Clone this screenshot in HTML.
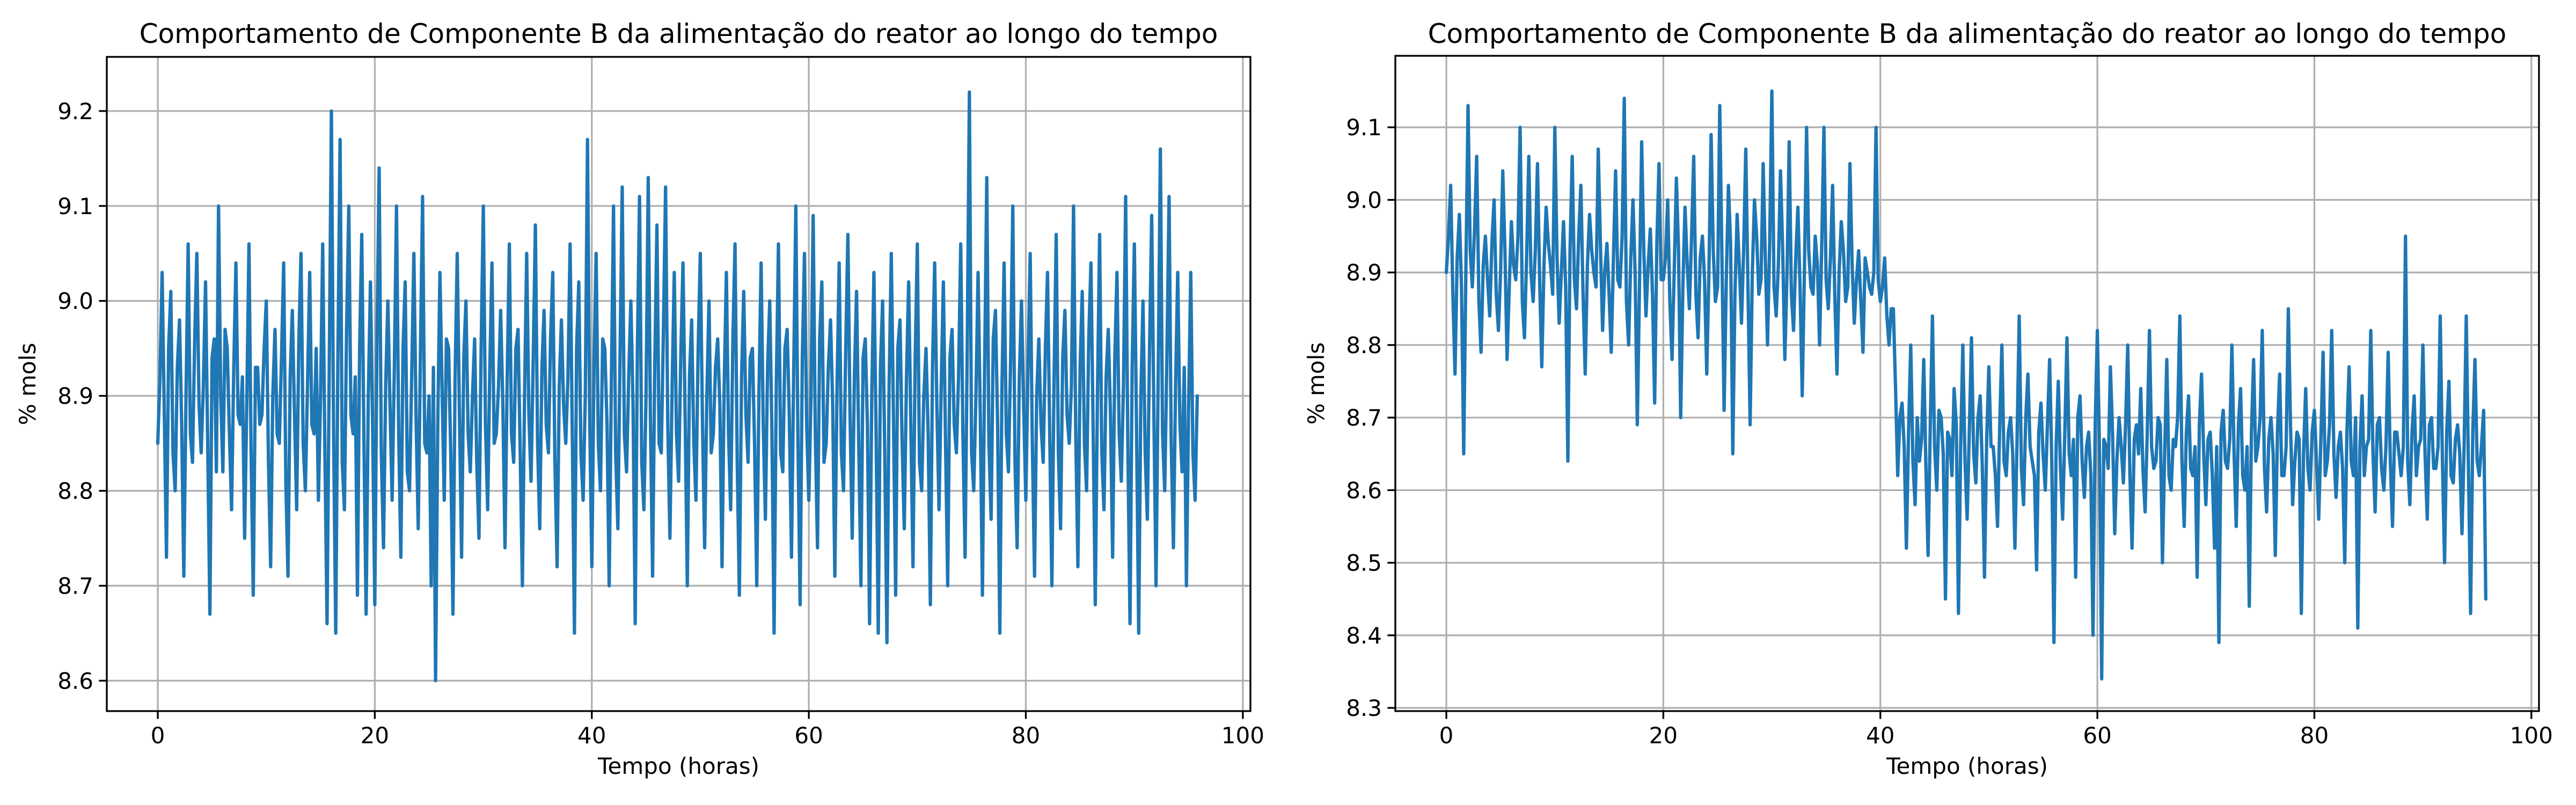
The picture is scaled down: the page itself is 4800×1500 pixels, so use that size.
<!DOCTYPE html>
<html><head><meta charset="utf-8"><style>
html,body{margin:0;padding:0;background:#fff;}
svg{display:block;font-family:"DejaVu Sans","Liberation Sans",sans-serif;}
</style></head><body>
<svg id="fig" width="4800" height="1500" viewBox="0 0 4800 1500"></svg>
<script>
const xTicks = [0,20,40,60,80,100];
const leftYTicks = [8.6,8.7,8.8,8.9,9.0,9.1,9.2];
const rightYTicks = [8.3,8.4,8.5,8.6,8.7,8.8,8.9,9.0,9.1];
const timeStep = 0.2;
const leftValues = [
8.85,8.92,9.03,8.88,8.73,8.95,9.01,8.84,8.80,8.93,8.98,8.87,8.71,8.90,9.06,8.86,8.83,8.96,9.05,8.89,8.84,8.91,9.02,8.85,8.67,8.94,8.96,8.82,9.10,8.90,8.82,8.97,8.95,8.86,8.78,8.93,9.04,8.88,8.87,8.92,
8.75,8.89,9.06,8.84,8.69,8.93,8.93,8.87,8.88,8.95,9.00,8.83,8.72,8.90,8.97,8.86,8.85,8.94,9.04,8.81,8.71,8.92,8.99,8.88,8.78,8.96,9.05,8.85,8.80,8.91,9.03,8.87,8.86,8.95,8.79,8.90,9.06,8.84,8.66,8.93,
9.20,8.86,8.65,8.94,9.17,8.83,8.78,8.97,9.10,8.88,8.86,8.92,8.69,8.95,9.07,8.85,8.67,8.90,9.02,8.87,8.68,8.96,9.14,8.84,8.74,8.91,9.00,8.89,8.79,8.93,9.10,8.86,8.73,8.95,9.02,8.82,8.80,8.92,9.05,8.88,
8.76,8.94,9.11,8.85,8.84,8.90,8.70,8.93,8.60,8.87,9.03,8.91,8.79,8.96,8.95,8.84,8.67,8.92,9.05,8.88,8.73,8.94,9.00,8.86,8.82,8.90,8.96,8.83,8.75,8.95,9.10,8.87,8.78,8.93,9.04,8.85,8.86,8.91,8.99,8.89,
8.74,8.92,9.06,8.86,8.83,8.95,8.97,8.84,8.70,8.90,9.05,8.88,8.81,8.94,9.08,8.85,8.76,8.93,8.99,8.87,8.84,8.96,9.03,8.83,8.72,8.91,8.98,8.89,8.85,8.92,9.06,8.86,8.65,8.95,9.02,8.84,8.79,8.90,9.17,8.88,
8.72,8.93,9.05,8.85,8.80,8.96,8.95,8.87,8.70,8.91,9.10,8.84,8.76,8.94,9.12,8.86,8.82,8.92,9.00,8.89,8.66,8.95,9.11,8.83,8.78,8.90,9.13,8.88,8.71,8.93,9.08,8.85,8.84,8.97,9.12,8.87,8.75,8.91,9.03,8.86,
8.81,8.94,9.04,8.88,8.70,8.92,8.98,8.85,8.79,8.95,9.05,8.87,8.74,8.90,9.00,8.84,8.86,8.93,8.96,8.89,8.72,8.91,9.03,8.86,8.78,8.96,9.06,8.83,8.69,8.92,9.01,8.88,8.83,8.94,8.95,8.85,8.70,8.90,9.04,8.87,
8.77,8.93,9.00,8.86,8.65,8.91,9.06,8.84,8.82,8.95,8.97,8.88,8.73,8.92,9.10,8.85,8.68,8.94,9.05,8.87,8.79,8.90,9.09,8.86,8.74,8.96,9.02,8.83,8.85,8.93,8.98,8.89,8.71,8.91,9.04,8.84,8.80,8.95,9.07,8.88,
8.75,8.92,9.01,8.85,8.70,8.94,8.96,8.87,8.66,8.90,9.03,8.86,8.65,8.93,9.00,8.84,8.64,8.91,9.05,8.88,8.69,8.95,8.98,8.85,8.76,8.92,9.02,8.87,8.72,8.94,9.06,8.83,8.80,8.90,8.95,8.86,8.68,8.93,9.04,8.89,
8.78,8.91,9.02,8.85,8.70,8.94,8.97,8.87,8.84,8.92,9.06,8.86,8.73,8.95,9.22,8.84,8.80,8.90,9.03,8.88,8.69,8.93,9.13,8.85,8.77,8.96,8.99,8.87,8.65,8.91,9.04,8.86,8.82,8.94,9.10,8.83,8.74,8.92,9.00,8.89,
8.79,8.93,9.05,8.85,8.71,8.90,8.96,8.87,8.83,8.95,9.03,8.86,8.70,8.92,9.07,8.84,8.76,8.94,8.99,8.88,8.85,8.91,9.10,8.86,8.72,8.93,9.01,8.85,8.80,8.96,9.04,8.87,8.68,8.90,9.07,8.84,8.78,8.92,8.97,8.88,
8.73,8.94,9.03,8.86,8.81,8.91,9.11,8.85,8.66,8.93,9.06,8.87,8.65,8.90,9.00,8.84,8.77,8.95,9.09,8.88,8.70,8.92,9.16,8.86,8.80,8.94,9.11,8.85,8.74,8.91,9.03,8.87,8.82,8.93,8.70,8.89,9.03,8.84,8.79,8.90];
const rightValues = [
8.90,8.95,9.02,8.87,8.76,8.92,8.98,8.88,8.65,8.90,9.13,8.93,8.88,8.96,9.06,8.86,8.79,8.91,8.95,8.89,8.84,8.94,9.00,8.87,8.82,8.90,9.04,8.93,8.78,8.88,8.97,8.91,8.89,8.95,9.10,8.86,8.81,8.92,9.06,8.90,
8.86,8.93,9.05,8.89,8.77,8.91,8.99,8.94,8.91,8.87,9.10,8.92,8.83,8.90,8.97,8.88,8.64,8.93,9.06,8.89,8.85,8.95,9.02,8.87,8.76,8.91,8.98,8.93,8.90,8.88,9.07,8.94,8.82,8.90,8.94,8.87,8.79,8.92,9.04,8.89,
8.88,8.95,9.14,8.86,8.80,8.92,9.00,8.90,8.69,8.88,9.08,8.93,8.84,8.91,8.96,8.87,8.72,8.94,9.05,8.89,8.89,8.92,9.00,8.86,8.78,8.90,9.03,8.93,8.70,8.88,8.99,8.91,8.85,8.95,9.06,8.87,8.81,8.92,8.95,8.89,
8.76,8.90,9.09,8.93,8.86,8.88,9.13,8.92,8.71,8.89,9.02,8.94,8.65,8.87,8.98,8.91,8.83,8.93,9.07,8.88,8.69,8.90,9.00,8.95,8.87,8.89,9.05,8.92,8.80,8.94,9.15,8.88,8.84,8.91,9.04,8.93,8.78,8.90,9.08,8.87,
8.82,8.92,8.99,8.88,8.73,8.90,9.10,8.93,8.88,8.87,8.95,8.91,8.80,8.94,9.10,8.89,8.85,8.92,9.02,8.87,8.76,8.90,8.97,8.93,8.86,8.88,9.05,8.91,8.83,8.89,8.93,8.86,8.79,8.92,8.90,8.88,8.87,8.90,9.10,8.89,
8.86,8.88,8.92,8.84,8.80,8.85,8.85,8.74,8.62,8.70,8.72,8.66,8.52,8.68,8.80,8.64,8.58,8.70,8.64,8.67,8.78,8.63,8.51,8.69,8.84,8.66,8.60,8.71,8.70,8.65,8.45,8.68,8.67,8.62,8.74,8.69,8.43,8.66,8.80,8.64,
8.56,8.68,8.81,8.65,8.61,8.70,8.73,8.63,8.48,8.67,8.77,8.66,8.66,8.62,8.55,8.69,8.80,8.64,8.62,8.68,8.70,8.65,8.52,8.67,8.84,8.63,8.58,8.70,8.76,8.66,8.64,8.62,8.49,8.68,8.72,8.65,8.60,8.69,8.78,8.64,
8.39,8.66,8.75,8.63,8.56,8.68,8.81,8.65,8.62,8.67,8.48,8.70,8.73,8.64,8.59,8.66,8.68,8.62,8.40,8.69,8.82,8.65,8.34,8.67,8.66,8.63,8.77,8.68,8.54,8.64,8.70,8.66,8.61,8.69,8.80,8.62,8.52,8.67,8.69,8.65,
8.74,8.63,8.57,8.68,8.82,8.66,8.63,8.64,8.70,8.69,8.50,8.65,8.78,8.62,8.60,8.67,8.66,8.70,8.84,8.64,8.55,8.68,8.73,8.63,8.62,8.66,8.48,8.69,8.76,8.65,8.58,8.67,8.68,8.62,8.52,8.66,8.39,8.68,8.71,8.64,
8.63,8.67,8.80,8.65,8.55,8.69,8.74,8.62,8.60,8.66,8.44,8.68,8.78,8.64,8.66,8.70,8.82,8.63,8.57,8.67,8.70,8.65,8.51,8.68,8.76,8.62,8.62,8.66,8.85,8.69,8.58,8.64,8.68,8.67,8.43,8.65,8.74,8.63,8.60,8.68,
8.71,8.64,8.56,8.67,8.79,8.62,8.64,8.69,8.82,8.65,8.59,8.66,8.68,8.63,8.50,8.68,8.77,8.64,8.62,8.70,8.41,8.66,8.73,8.62,8.66,8.67,8.82,8.65,8.57,8.69,8.70,8.63,8.60,8.66,8.79,8.64,8.55,8.68,8.68,8.65,
8.62,8.66,8.95,8.64,8.58,8.68,8.73,8.62,8.66,8.67,8.80,8.65,8.56,8.69,8.70,8.63,8.63,8.66,8.84,8.64,8.50,8.68,8.75,8.62,8.61,8.67,8.69,8.65,8.54,8.66,8.84,8.63,8.43,8.68,8.78,8.64,8.62,8.66,8.71,8.45];

const NS='http://www.w3.org/2000/svg';
const svg=document.getElementById('fig');
function mk(tag,attrs,parent){const e=document.createElementNS(NS,tag);for(const k in attrs)e.setAttribute(k,attrs[k]);(parent||svg).appendChild(e);return e;}

function panel(p){
  const g=mk('g',{});
  
  
  const X=v=>p.L+(v-p.xmin)/(p.xmax-p.xmin)*(p.R-p.L);
  const Y=v=>p.B-(v-p.ymin)/(p.ymax-p.ymin)*(p.B-p.T);
  xTicks.forEach(t=>{
    const l=mk('line',{x1:X(t),x2:X(t),y1:p.T,y2:p.B,stroke:'#b0b0b0','stroke-width':3.3},g);
    
    
  });
  p.yTicks.forEach(t=>{
    const l=mk('line',{x1:p.L,x2:p.R,y1:Y(t),y2:Y(t),stroke:'#b0b0b0','stroke-width':3.3},g);
    
    
  });
  const pts=p.values.map((v,i)=>X(i*timeStep).toFixed(1)+','+Y(v).toFixed(1)).join(' ');
  const line=mk('polyline',{points:pts,fill:'none',stroke:'#1f77b4','stroke-width':6.25,'stroke-linejoin':'round','stroke-linecap':'round'},g);
  
  
  const fr=mk('rect',{x:p.L,y:p.T,width:p.R-p.L,height:p.B-p.T,fill:'none',stroke:'#000','stroke-width':3.3},g);
  
  
  xTicks.forEach(t=>{
    mk('line',{x1:X(t),x2:X(t),y1:p.B,y2:p.B+14.6,stroke:'#000','stroke-width':3.3},g);
    const tx=mk('text',{x:X(t),y:1385,'font-size':42,'text-anchor':'middle',fill:'#000'},g);
    tx.textContent=String(t);
    
    
  });
  p.yTicks.forEach(t=>{
    mk('line',{x1:p.L-14.6,x2:p.L,y1:Y(t),y2:Y(t),stroke:'#000','stroke-width':3.3},g);
    const tx=mk('text',{x:p.L-25,y:Y(t)+15,'font-size':42,'text-anchor':'end',fill:'#000'},g);
    tx.textContent=t.toFixed(1);
    
    
  });
  const xl=mk('text',{x:(p.L+p.R)/2,y:1442,'font-size':42,'text-anchor':'middle',fill:'#000'},g);
  xl.textContent='Tempo (horas)';
  
  
  const yl=mk('text',{x:0,y:0,'font-size':42,'text-anchor':'middle',fill:'#000',transform:`translate(${p.L-133},${(p.T+p.B)/2}) rotate(-90)`},g);
  yl.textContent='% mols';
  
  
  const ti=mk('text',{x:(p.L+p.R)/2,y:80,'font-size':50,'text-anchor':'middle',fill:'#000'},g);
  ti.textContent='Comportamento de Componente B da alimentação do reator ao longo do tempo';
  
  
}
panel({name:'left-chart',L:199,R:2330,T:106,B:1325,xmin:-4.7,xmax:100.7,ymin:8.568,ymax:9.257,yTicks:leftYTicks,values:leftValues});
panel({name:'right-chart',L:2600,R:4731,T:104,B:1325,xmin:-4.7,xmax:100.7,ymin:8.2956,ymax:9.1985,yTicks:rightYTicks,values:rightValues});
</script>
</body></html>
